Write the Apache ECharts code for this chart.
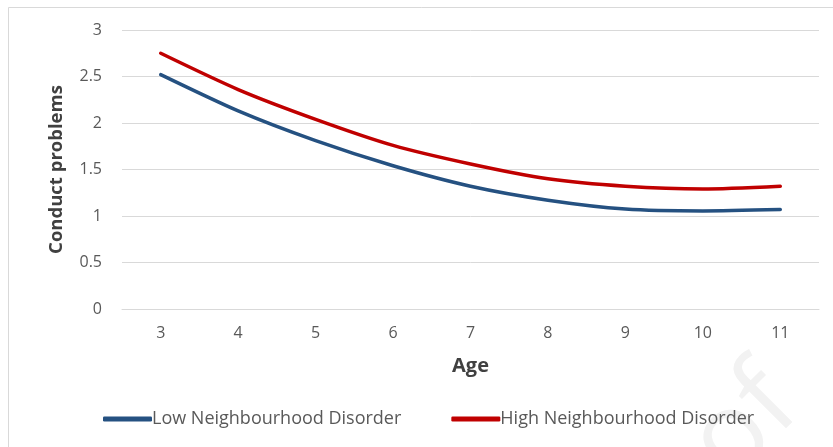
<!DOCTYPE html>
<html>
<head>
<meta charset="utf-8">
<script src="https://cdn.jsdelivr.net/npm/echarts@6/dist/echarts.min.js"></script>
<style>
html,body{margin:0;padding:0;background:#fff;}
#chart{width:833px;height:447px;}
</style>
</head>
<body>
<div id="chart"></div>
<script>
var ages = ['3','4','5','6','7','8','9','10','11'];
var lowDisorder = [2.52, 2.13, 1.81, 1.54, 1.32, 1.17, 1.075, 1.055, 1.07];
var highDisorder = [2.75, 2.36, 2.04, 1.76, 1.56, 1.40, 1.32, 1.29, 1.32];
var seriesNames = ['Low Neighbourhood Disorder', 'High Neighbourhood Disorder'];
var yTicks = [0, 0.5, 1, 1.5, 2, 2.5, 3];

var chart = echarts.init(document.getElementById('chart'), null, {renderer: 'canvas'});
var font = 'Open Sans';
chart.setOption({
  animation: false,
  backgroundColor: '#ffffff',
  graphic: [
    {type: 'rect', shape: {x: 8.5, y: 7.5, width: 840, height: 460}, style: {fill: 'none', stroke: '#d9d9d9', lineWidth: 1}, z: -10},
    {type: 'text', x: 745, y: 425, rotation: Math.PI / 4, style: {text: 'of', font: '110px "Open Sans"', fill: '#f2f2f2', textAlign: 'center', textVerticalAlign: 'middle'}, z: -5}
  ],
  grid: {left: 122, right: 14, top: 30, bottom: 138},
  legend: {
    data: seriesNames,
    bottom: 19,
    left: 103,
    padding: 0,
    itemWidth: 49,
    itemHeight: 5,
    itemGap: 50,
    icon: 'roundRect',
    textStyle: {fontFamily: font, fontSize: 18, color: '#595959', padding: [0, 0, 0, -5]}
  },
  xAxis: {
    type: 'category',
    data: ages,
    boundaryGap: true,
    name: 'Age',
    nameLocation: 'middle',
    nameGap: 47,
    nameTextStyle: {fontFamily: font, fontSize: 20, fontWeight: 'bold', color: '#404040'},
    axisLine: {show: true, lineStyle: {color: '#d9d9d9', width: 1}},
    axisTick: {show: false},
    axisLabel: {fontFamily: font, fontSize: 16, color: '#595959', margin: 16}
  },
  yAxis: {
    type: 'value',
    min: yTicks[0],
    max: yTicks[yTicks.length - 1],
    interval: 0.5,
    name: 'Conduct problems',
    nameLocation: 'middle',
    nameGap: 56,
    nameTextStyle: {fontFamily: font, fontSize: 18.5, fontWeight: 'bold', color: '#404040'},
    axisLine: {show: false},
    axisTick: {show: false},
    splitLine: {lineStyle: {color: '#d9d9d9', width: 1}},
    axisLabel: {fontFamily: font, fontSize: 16, color: '#595959', margin: 20}
  },
  series: [
    {name: seriesNames[0], type: 'line', data: lowDisorder, smooth: 0.25, symbol: 'none',
     lineStyle: {color: '#255181', width: 3.5, cap: 'round'}, itemStyle: {color: '#255181'}},
    {name: seriesNames[1], type: 'line', data: highDisorder, smooth: 0.25, symbol: 'none',
     lineStyle: {color: '#c00000', width: 3.5, cap: 'round'}, itemStyle: {color: '#c00000'}}
  ]
});
</script>
</body>
</html>
